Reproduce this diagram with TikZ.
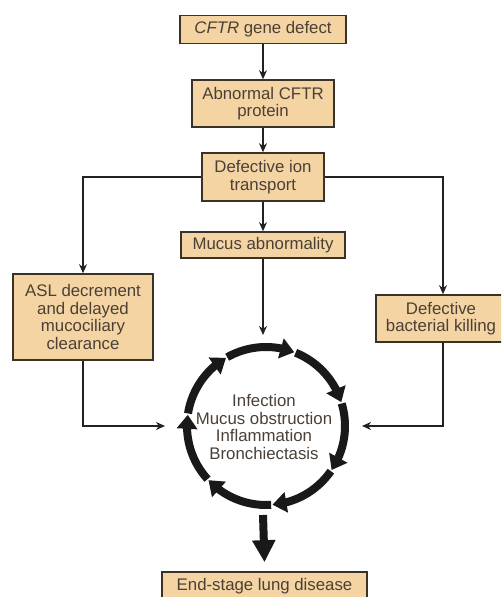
\documentclass[tikz,border=0pt]{standalone}
\usepackage{fontspec}
\setmainfont{Liberation Sans}
\usetikzlibrary{arrows.meta,bending,calc}
\definecolor{boxfill}{HTML}{F3D4A2}
\definecolor{txtcol}{HTML}{4B4038}
\definecolor{bordercol}{HTML}{3A3128}
\definecolor{arrcol}{HTML}{222222}
\begin{document}
\begin{tikzpicture}[x=1pt,y=1pt,
  box/.style={draw=bordercol,line width=1.6pt,fill=boxfill,text=txtcol,align=center,
    font=\fontsize{16.8}{17.5}\selectfont,inner sep=0pt},
  conn/.style={draw=arrcol,line width=1.5pt,-{Stealth[length=9pt,width=8pt]}},
  cyc/.style={draw=black!90,line width=8pt,-{Triangle[length=14pt,width=20pt]}},
  big/.style={draw=black!90,line width=8pt,-{Triangle[length=22pt,width=22pt]}},
  lbl/.style={text=txtcol,align=center,font=\fontsize{16.8}{17.5}\selectfont}]
\clip (0,0) rectangle (501,597);
\fill[white] (0,0) rectangle (501,597);
% boxes
\node[box,minimum width=166pt,minimum height=28pt] (b1) at (263,567.5) {\textit{CFTR} gene defect};
\node[box,minimum width=142pt,minimum height=47pt] (b2) at (263,493.5) {Abnormal CFTR\\protein};
\node[box,minimum width=122pt,minimum height=48pt] (b3) at (263,420) {Defective ion\\transport};
\node[box,minimum width=164pt,minimum height=26pt] (b4) at (263,352) {Mucus abnormality};
\node[box,minimum width=140pt,minimum height=86pt] (asl) at (83,280) {ASL decrement\\and delayed\\mucociliary\\clearance};
\node[box,minimum width=134pt,minimum height=47pt] (bac) at (443,278.5) {\hspace*{-4pt}Defective\\\hspace*{-4pt}bacterial killing};
\node[box,minimum width=205pt,minimum height=28pt] (end) at (264.5,11) {End-stage lung disease};
% centre text
\node[lbl] (cyctext) at (264,170) {Infection\\Mucus obstruction\\Inflammation\\Bronchiectasis};
% connectors
\draw[conn] (b1) -- (b2);
\draw[conn] (b2) -- (b3);
\draw[conn] (b3) -- (b4);
\draw[conn] (b3.west) -| (asl.north);
\draw[conn] (b3.east) -| (bac.north);
\coordinate (ctop) at (263,262);
\coordinate (cleft) at (165,171);
\coordinate (cright) at (362,171);
\coordinate (cbot) at (263,82);
\draw[conn] (b4) -- (ctop);
\draw[conn] (asl.south) |- (cleft);
\draw[conn] (bac.south) |- (cright);
\draw[big] (cbot) -- ([yshift=9pt]end.north);
% cycle arrows
\foreach \k in {0,...,6}{
  \pgfmathsetmacro{\e}{69-51.43*\k}
  \pgfmathsetmacro{\s}{\e+51.43-1}
  \draw[cyc] ($(266,171)+(\s:79)$) arc[start angle=\s,end angle=\e,radius=79];
}
\end{tikzpicture}
\end{document}
